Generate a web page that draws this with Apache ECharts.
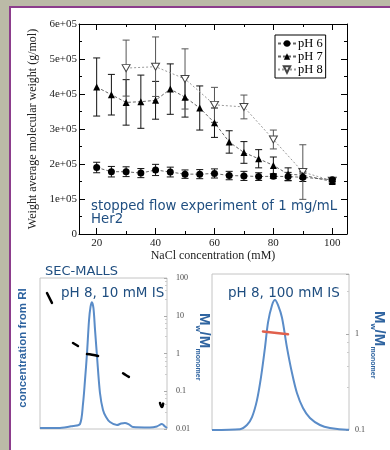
<!DOCTYPE html>
<html><head><meta charset="utf-8">
<script src="https://cdn.jsdelivr.net/npm/echarts@6/dist/echarts.min.js"></script>
<style>
html,body{margin:0;padding:0;background:#bbbaa7;overflow:hidden;width:390px;height:450px}
#panel{position:absolute;left:9px;top:6px;width:390px;height:460px;background:#fff;border-left:2px solid #8c3d8c;border-top:2px solid #8c3d8c;box-sizing:border-box}
#c{width:390px;height:450px;position:absolute;left:0;top:0}
</style>
</head><body><div id="panel"></div><div id="c"></div>
<script>
// ---- Top chart: weight-average molecular weight vs NaCl concentration ----
const naclX = [20,25,30,35,40,45,50,55,60,65,70,75,80,85,90,100];
const pH6Mean = [1.90,1.78,1.78,1.74,1.83,1.77,1.71,1.71,1.73,1.67,1.66,1.64,1.65,1.64,1.62,1.55];
const pH6Err  = [0.15,0.15,0.14,0.13,0.16,0.14,0.12,0.13,0.13,0.12,0.13,0.11,0.06,0.12,0.12,0.05];
const pH7Mean = [4.20,3.98,3.76,3.78,3.82,4.14,3.91,3.60,3.18,2.63,2.33,2.15,1.96,1.71,1.68,1.50];
const pH7Err  = [0.83,0.58,0.65,0.76,0.54,0.72,0.57,0.63,0.42,0.32,0.31,0.26,0.24,0.18,0.10,0.05];
const naclX8  = [30,40,50,60,70,80,90,100];
const pH8Mean = [4.74,4.78,4.43,3.69,3.63,2.70,1.77,1.52];
const pH8Err  = [0.80,0.85,0.86,0.50,0.34,0.27,0.78,0.04];
const xMajorTicks = [20,40,60,80,100];
const xMinorTicks = [30,50,70,90];
const seriesNames = ['pH 6','pH 7','pH 8'];

// ---- Bottom left: SEC-MALLS, pH 8, 10 mM IS ----
const riLeft = [[0,0.007],[15.7,0.007],[26,0.02],[31.5,0.033],[33.9,0.17],[35.4,0.32],[37,0.50],[38.6,0.72],[39.8,0.81],[40.9,0.84],[42.1,0.80],[43.3,0.66],[44.9,0.48],[47.2,0.24],[49.6,0.126],[52,0.08],[55.1,0.046],[60.6,0.026],[63.8,0.036],[66.9,0.04],[70,0.03],[73.2,0.013],[86.6,0.01],[92,0.017],[96,0.033],[98.4,0.017],[100,0.007]];
const mwLeft = [[5.5,40],[9.4,22],'-',[26,1.9],[29.9,1.58],'-',[37,0.97],[41,0.93],[45.7,0.86],'-',[65.4,0.30],[67.5,0.27],[70,0.24],'-',[94.5,0.049],[96,0.038],[97,0.047]];
// ---- Bottom right: pH 8, 100 mM IS ----
const riRight = [[0,0],[20.4,0.005],[25.5,0.032],[29.2,0.083],[32.8,0.19],[35.8,0.34],[38.7,0.53],[40.9,0.69],[43.8,0.80],[46,0.833],[48.2,0.80],[51.1,0.72],[54.7,0.53],[58.4,0.365],[62,0.237],[66.4,0.141],[71.5,0.077],[78.8,0.032],[86.1,0.013],[98.5,0.002],[100,0.002]];
const mwRight = [[37.2,1.06],[55.5,0.99]];

const SERIF = 'Liberation Serif';
const SANS = 'DejaVu Sans';
const BLUE_TXT = '#1f4e80';
const BLUE_TTL = '#2f64a0';
const CURVE = '#5a8cc8';

function errRender(color){
  return function(params, api){
    const x = api.value(0), lo = api.value(1), hi = api.value(2);
    const p1 = api.coord([x, hi]), p2 = api.coord([x, lo]);
    const w = 3.5;
    const st = {stroke: color, lineWidth: 1};
    return {type:'group', children:[
      {type:'line', shape:{x1:p1[0],y1:p1[1],x2:p2[0],y2:p2[1]}, style:st},
      {type:'line', shape:{x1:p1[0]-w,y1:p1[1],x2:p1[0]+w,y2:p1[1]}, style:st},
      {type:'line', shape:{x1:p2[0]-w,y1:p2[1],x2:p2[0]+w,y2:p2[1]}, style:st}
    ]};
  };
}
function errData(xs, m, e){ return xs.map((x,i)=>[x,(m[i]-e[i])*1e5,(m[i]+e[i])*1e5]); }
function ptData(xs, m){ return xs.map((x,i)=>[x,m[i]*1e5]); }

const mainX = {min:14, max:105, gridIndex:0, type:'value'};
const axBlack = {lineStyle:{color:'#000', width:1}};

// Rotated "Mw/Mmonomer" title built as a group of text pieces (reads top to bottom)
function mwTitleGroup(cx, cy){
  const f = (t, x, y, size) => ({type:'text', x:x, y:y, style:{text:t, fill:BLUE_TTL,
    fontFamily:'Liberation Sans', fontWeight:'bold', fontSize:size, textVerticalAlign:'middle'}});
  return {type:'group', x:cx, y:cy, rotation:-Math.PI/2, z:100, children:[
    f('M', -34, 0, 15), f('w', -21.5, 6, 8), f('/M', -15.5, 0, 15), f('monomer', 1.5, 6, 7)
  ]};
}

const chart = echarts.init(document.getElementById('c'), null, {renderer:'canvas'});

chart.setOption({
  animation:false,
  backgroundColor:'transparent',
  grid:[
    {left:79, top:24, width:268, height:210},
    {left:40, top:278, width:127, height:151, show:true, borderColor:'#c4c4c4', borderWidth:1, backgroundColor:'transparent'},
    {left:212, top:274, width:137, height:156, show:true, borderColor:'#c4c4c4', borderWidth:1, backgroundColor:'transparent'}
  ],
  legend:{
    data: seriesNames, orient:'vertical', left:275, top:35,
    backgroundColor:'#fff', borderColor:'#000', borderWidth:1, borderRadius:0,
    padding:[2,3,2,2], itemGap:0, itemWidth:18, itemHeight:8,
    textStyle:{fontFamily:SERIF, fontSize:12.5, color:'#000', padding:[0,0,0,-3]}
  },
  xAxis:[
    Object.assign({}, mainX, {position:'bottom', axisLine:axBlack,
      axisTick:{inside:true, length:6, customValues:xMajorTicks, lineStyle:{color:'#000'}},
      axisLabel:{customValues:xMajorTicks, fontFamily:SERIF, fontSize:11, color:'#222', margin:4},
      splitLine:{show:false},
      name:'NaCl concentration (mM)', nameLocation:'middle', nameGap:14,
      nameTextStyle:{fontFamily:SERIF, fontSize:12, color:'#222'}}),
    Object.assign({}, mainX, {position:'bottom', axisLine:{show:false},
      axisTick:{inside:true, length:3, customValues:xMinorTicks, lineStyle:{color:'#000'}},
      axisLabel:{show:false}, splitLine:{show:false}}),
    Object.assign({}, mainX, {position:'top', axisLine:axBlack,
      axisTick:{inside:true, length:6, customValues:xMajorTicks, lineStyle:{color:'#000'}},
      axisLabel:{show:false}, splitLine:{show:false}}),
    Object.assign({}, mainX, {position:'top', axisLine:{show:false},
      axisTick:{inside:true, length:3, customValues:xMinorTicks, lineStyle:{color:'#000'}},
      axisLabel:{show:false}, splitLine:{show:false}}),
    {type:'value', gridIndex:1, min:0, max:100, show:false},
    {type:'value', gridIndex:2, min:0, max:100, show:false}
  ],
  yAxis:[
    {type:'value', gridIndex:0, min:0, max:6e5, interval:1e5, position:'left', axisLine:axBlack,
      axisTick:{inside:true, length:6, lineStyle:{color:'#000'}},
      minorTick:{show:true, splitNumber:2, length:3, lineStyle:{color:'#000'}},
      axisLabel:{fontFamily:SERIF, fontSize:11, color:'#222', margin:2,
        formatter:v=> v===0 ? '0' : Math.round(v/1e5)+'e+05'},
      splitLine:{show:false},
      name:'Weight average molecular weight (g/mol)', nameLocation:'middle', nameGap:40,
      nameTextStyle:{fontFamily:SERIF, fontSize:12, color:'#222'}},
    {type:'value', gridIndex:0, min:0, max:6e5, interval:1e5, position:'right', axisLine:axBlack,
      axisTick:{inside:true, length:6, lineStyle:{color:'#000'}},
      minorTick:{show:true, splitNumber:2, length:3, lineStyle:{color:'#000'}},
      axisLabel:{show:false}, splitLine:{show:false}},
    {type:'value', gridIndex:1, min:0, max:1, show:false},
    {type:'log', gridIndex:1, min:0.01, max:100, logBase:10, position:'right',
      axisLine:{show:false}, axisTick:{inside:true, length:3, lineStyle:{color:'#aaa'}},
      minorTick:{show:true, splitNumber:5, length:2, lineStyle:{color:'#ccc'}},
      axisLabel:{fontFamily:SERIF, fontSize:8, color:'#444', margin:9}, splitLine:{show:false}},
    {type:'value', gridIndex:2, min:0, max:1, show:false},
    {type:'log', gridIndex:2, min:0.1, max:4.2, logBase:10, position:'right',
      axisLine:{show:false}, axisTick:{inside:true, length:3, lineStyle:{color:'#aaa'}},
      minorTick:{show:true, splitNumber:5, length:2, lineStyle:{color:'#ccc'}},
      axisLabel:{fontFamily:SERIF, fontSize:8, color:'#444', margin:6,
        formatter:v=>{const l=Math.log10(v); return Math.abs(l-Math.round(l))<1e-6 ? String(+v.toPrecision(3)) : '';}},
      splitLine:{show:false}}
  ],
  series:[
    {type:'custom', name:'err6', xAxisIndex:0, yAxisIndex:0, renderItem:errRender('#111'), encode:{x:0,y:[1,2]}, data:errData(naclX,pH6Mean,pH6Err), z:2, silent:true},
    {type:'custom', name:'err7', xAxisIndex:0, yAxisIndex:0, renderItem:errRender('#111'), encode:{x:0,y:[1,2]}, data:errData(naclX,pH7Mean,pH7Err), z:2, silent:true},
    {type:'custom', name:'err8', xAxisIndex:0, yAxisIndex:0, renderItem:errRender('#555'), encode:{x:0,y:[1,2]}, data:errData(naclX8,pH8Mean,pH8Err), z:2, silent:true},
    {type:'line', name:'pH 8', xAxisIndex:0, yAxisIndex:0, data:ptData(naclX8,pH8Mean),
      symbol:'path://M0,0 L10,0 L5,9 Z', symbolSize:[8,7], showSymbol:true,
      itemStyle:{color:'#fff', borderColor:'#444', borderWidth:1},
      lineStyle:{color:'#999', width:1, type:[2,2]}, z:3},
    {type:'line', name:'pH 7', xAxisIndex:0, yAxisIndex:0, data:ptData(naclX,pH7Mean),
      symbol:'triangle', symbolSize:7, showSymbol:true,
      itemStyle:{color:'#000'}, lineStyle:{color:'#666', width:1, type:[3,2]}, z:4},
    {type:'line', name:'pH 6', xAxisIndex:0, yAxisIndex:0, data:ptData(naclX,pH6Mean),
      symbol:'circle', symbolSize:7, showSymbol:true,
      itemStyle:{color:'#000'}, lineStyle:{color:'#666', width:1, type:[3,2]}, z:5},
    {type:'line', name:'RI left', xAxisIndex:4, yAxisIndex:2, data:riLeft, smooth:0.3, showSymbol:false,
      lineStyle:{color:CURVE, width:2}, z:3},
    {type:'line', name:'Mw left', xAxisIndex:4, yAxisIndex:3, data:mwLeft, smooth:true, showSymbol:false, connectNulls:false,
      lineStyle:{color:'#000', width:2.5, cap:'round'}, z:4},
    {type:'line', name:'RI right', xAxisIndex:5, yAxisIndex:4, data:riRight, smooth:0.3, showSymbol:false,
      lineStyle:{color:CURVE, width:2}, z:3},
    {type:'line', name:'Mw right', xAxisIndex:5, yAxisIndex:5, data:mwRight, showSymbol:false,
      lineStyle:{color:'#e0604c', width:2.5, cap:'round'}, z:4}
  ],
  graphic:[
    {type:'text', z:100, x:91, y:200, style:{text:'stopped flow experiment of 1 mg/mL\nHer2', fill:BLUE_TXT,
      fontFamily:SANS, fontSize:13.3, lineHeight:13, textVerticalAlign:'top'}},
    {type:'text', z:100, x:45, y:272, style:{text:'SEC-MALLS', fill:BLUE_TXT, fontFamily:SANS, fontSize:13, textVerticalAlign:'middle'}},
    {type:'text', z:100, x:61, y:293, style:{text:'pH 8, 10 mM IS', fill:BLUE_TXT, fontFamily:SANS, fontSize:13.5, textVerticalAlign:'middle'}},
    {type:'text', z:100, x:228, y:293, style:{text:'pH 8, 100 mM IS', fill:BLUE_TXT, fontFamily:SANS, fontSize:13.5, textVerticalAlign:'middle'}},
    {type:'text', z:100, x:23, y:348, rotation:Math.PI/2, style:{text:'concentration from RI', fill:BLUE_TTL,
      fontFamily:'Liberation Sans Narrow, Liberation Sans', fontWeight:'bold', fontSize:11.5, textAlign:'center', textVerticalAlign:'middle'}},
    mwTitleGroup(204, 347),
    mwTitleGroup(379, 345)
  ]
});
</script></body></html>
